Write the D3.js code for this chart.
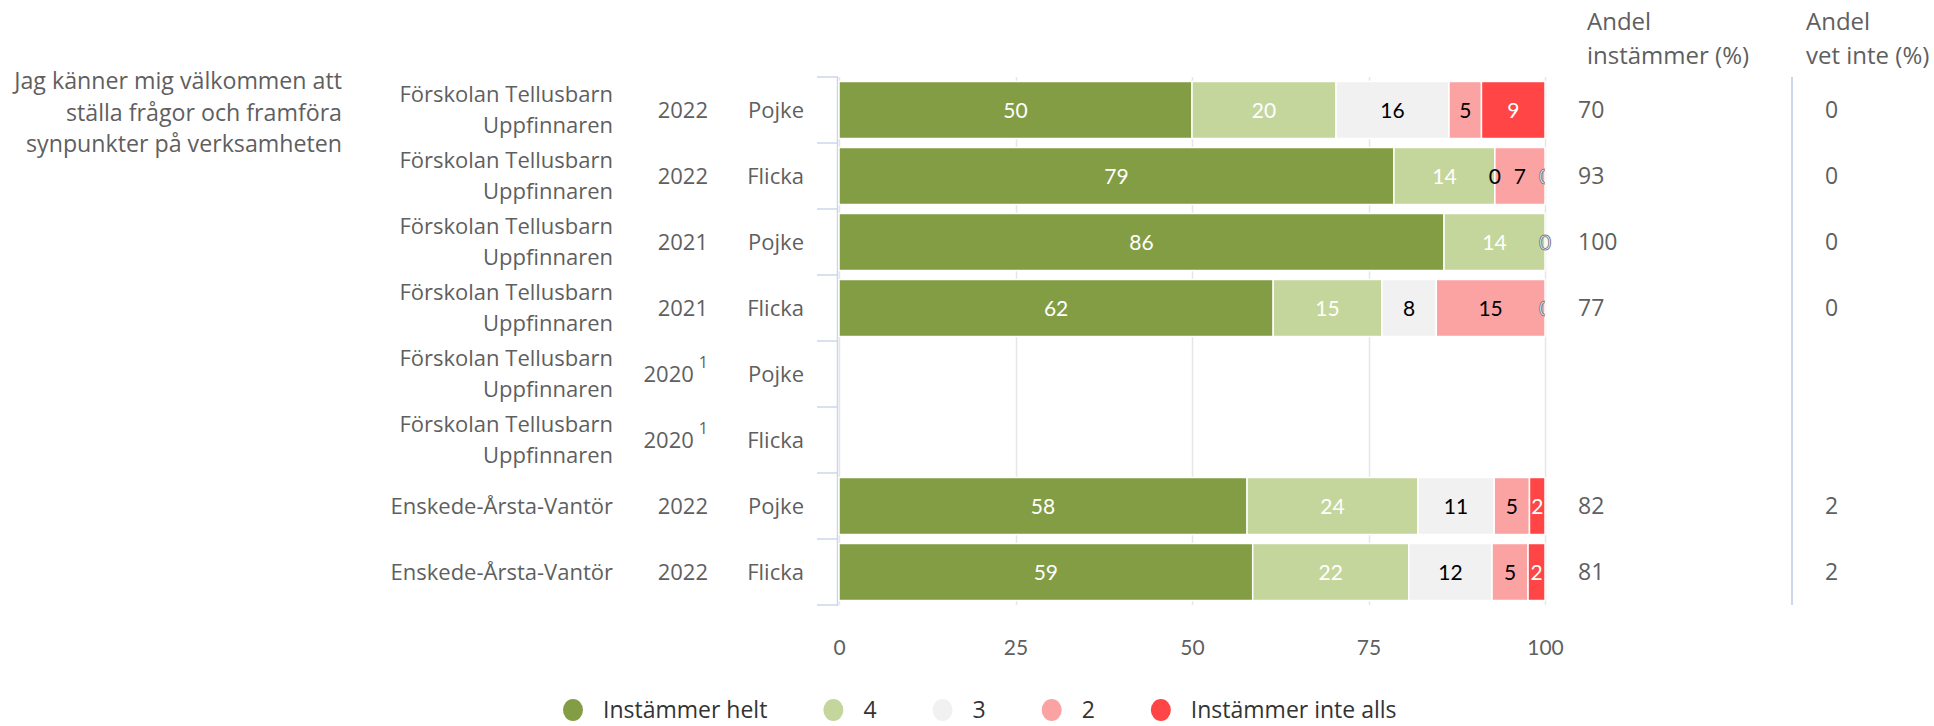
<!DOCTYPE html>
<html>
<head>
<meta charset="utf-8">
<script src="https://cdn.jsdelivr.net/npm/d3@7"></script>
<style>
  html, body { margin: 0; padding: 0; background: #fff; }
  svg { display: block; font-family: "Open Sans", "Noto Sans", sans-serif; }
</style>
</head>
<body>
<svg id="chart" width="1934" height="726"></svg>
<script>
// ---------- DATA ----------
const question = ["Jag känner mig välkommen att", "ställa frågor och framföra", "synpunkter på verksamheten"];
const units = [
  ["Förskolan Tellusbarn", "Uppfinnaren"],
  ["Förskolan Tellusbarn", "Uppfinnaren"],
  ["Förskolan Tellusbarn", "Uppfinnaren"],
  ["Förskolan Tellusbarn", "Uppfinnaren"],
  ["Förskolan Tellusbarn", "Uppfinnaren"],
  ["Förskolan Tellusbarn", "Uppfinnaren"],
  ["Enskede-Årsta-Vantör"],
  ["Enskede-Årsta-Vantör"]
];
const years = ["2022", "2022", "2021", "2021", "2020", "2020", "2022", "2022"];
const yearNotes = ["", "", "", "", "1", "1", "", ""];
const genders = ["Pojke", "Flicka", "Pojke", "Flicka", "Pojke", "Flicka", "Pojke", "Flicka"];

const seriesNames = ["Instämmer helt", "4", "3", "2", "Instämmer inte alls"];
const helt      = [50.0, 78.6, 85.7, 61.5, null, null, 57.8, 58.6];
const fyra      = [20.4, 14.3, 14.3, 15.4, null, null, 24.2, 22.1];
const tre       = [16.0, 0,    0,    7.7,  null, null, 10.8, 11.8];
const tva       = [4.6,  7.1,  0,    15.4, null, null, 5.0,  5.1];
const inteAlls  = [9.0,  0,    0,    0,    null, null, 2.2,  2.4];

const andelInstammer = [70, 93, 100, 77, null, null, 82, 81];
const andelVetInte   = [0, 0, 0, 0, null, null, 2, 2];
const headers = [["Andel", "instämmer (%)"], ["Andel", "vet inte (%)"]];
const xTicks = [0, 25, 50, 75, 100];

// ---------- STYLE ----------
const colors = ["#839d45", "#c5d69c", "#f1f1f1", "#fba3a3", "#ff4545"];
const labelColors = ["#ffffff", "#ffffff", "#000000", "#000000", "#ffffff"];
const textGray = "#5f5f5f";
const numFont = "Lato, sans-serif";

const svg = d3.select("#chart");
const plot = { left: 839, right: 1545, top: 77, bottom: 605 };

const x = d3.scaleLinear().domain([0, 100]).range([plot.left, plot.right]);
const y = d3.scaleBand().domain(d3.range(years.length)).range([plot.top, plot.bottom])
  .paddingInner(0.136).paddingOuter(0.068);
const step = y.step();
const rowCenter = i => plot.top + step * i + step / 2;

svg.append("defs").append("clipPath").attr("id", "plotclip")
  .append("rect").attr("x", plot.left).attr("y", plot.top)
  .attr("width", plot.right - plot.left).attr("height", plot.bottom - plot.top);

// gridlines
svg.append("g").selectAll("line").data(xTicks).join("line")
  .attr("x1", d => Math.round(x(d)) + 0.5).attr("x2", d => Math.round(x(d)) + 0.5)
  .attr("y1", plot.top).attr("y2", plot.bottom)
  .attr("stroke", "#e6e6e6").attr("stroke-width", 1.5);

// x axis labels
const xAxis = d3.axisBottom(x).tickValues(xTicks).tickSize(0).tickPadding(0);
const gx = svg.append("g").attr("transform", `translate(0,${plot.bottom + 43})`).call(xAxis);
gx.select(".domain").remove();
gx.selectAll("text").attr("font-size", 21).attr("fill", textGray)
  .attr("font-family", numFont).attr("dy", "0.35em");

// left axis line and ticks
svg.append("line").attr("x1", plot.left - 1.5).attr("x2", plot.left - 1.5)
  .attr("y1", plot.top).attr("y2", plot.bottom + 1).attr("stroke", "#ccd6eb").attr("stroke-width", 1.5);
svg.append("g").selectAll("line").data(d3.range(years.length + 1)).join("line")
  .attr("x1", plot.left - 22).attr("x2", plot.left - 1)
  .attr("y1", i => plot.top + i * step).attr("y2", i => plot.top + i * step)
  .attr("stroke", "#ccd6eb").attr("stroke-width", 1.5);

// stacked bars
const seriesValues = [helt, fyra, tre, tva, inteAlls];
const rows = years.map((yr, i) => {
  let acc = 0;
  return seriesValues.map((arr, s) => {
    const v = arr[i];
    const seg = { row: i, s, v, x0: acc, x1: acc + (v || 0) };
    acc += v || 0;
    return seg;
  });
});
const segs = rows.flat().filter(d => d.v !== null);

svg.append("g").selectAll("rect").data(segs.filter(d => d.v > 0)).join("rect")
  .attr("x", d => x(d.x0)).attr("width", d => x(d.x1) - x(d.x0))
  .attr("y", d => y(d.row)).attr("height", y.bandwidth())
  .attr("fill", d => colors[d.s]).attr("stroke", "#fff").attr("stroke-width", 1.5);

// data labels
const labelG = svg.append("g").attr("font-size", 21).attr("font-family", numFont).attr("text-anchor", "middle");
rows.forEach(r => {
  const seen = new Set();
  r.forEach(d => {
    if (d.v === null) return;
    const cx = x((d.x0 + d.x1) / 2);
    const atEnd = d.v === 0 && d.x0 >= 99.9;
    if (d.v === 0) {
      const key = Math.round(cx);
      if (seen.has(key)) return;
      seen.add(key);
    }
    const t = labelG.append("text")
      .attr("x", cx).attr("y", rowCenter(d.row)).attr("dy", "0.36em")
      .text(Math.round(d.v));
    if (atEnd) {
      t.attr("fill", "#fff").attr("stroke", "#707070").attr("stroke-width", 0.9);
      if (d.s === seriesValues.length - 1) t.attr("clip-path", "url(#plotclip)");
    } else {
      t.attr("fill", labelColors[d.s]);
    }
  });
});

// left category labels
const leftG = svg.append("g").attr("font-size", 22).attr("fill", textGray).attr("text-anchor", "end");
units.forEach((lines, i) => {
  const c = rowCenter(i);
  lines.forEach((ln, k) => {
    leftG.append("text").attr("x", 613)
      .attr("y", c + (k - (lines.length - 1) / 2) * 31).attr("dy", "0.35em").text(ln);
  });
  const yt = leftG.append("text").attr("x", 708).attr("y", c).attr("dy", "0.35em");
  yt.append("tspan").text(years[i]);
  if (yearNotes[i]) {
    yt.append("tspan").attr("font-size", 16).attr("dx", 5).attr("dy", "-0.85em").text(yearNotes[i]);
  }
  leftG.append("text").attr("x", 804).attr("y", c).attr("dy", "0.35em").text(genders[i]);
});

// question text
question.forEach((ln, k) => {
  leftG.append("text").attr("x", 342).attr("y", 81 + k * 31.5).attr("dy", "0.35em")
    .attr("font-size", 23.2).text(ln);
});

// right columns
const rightG = svg.append("g").attr("fill", textGray);
const colX = [1587, 1806];
headers.forEach((h, j) => h.forEach((ln, k) =>
  rightG.append("text").attr("x", colX[j]).attr("y", 22 + k * 34).attr("dy", "0.35em")
    .attr("font-size", 24).text(ln)));
andelInstammer.forEach((v, i) => {
  if (v === null) return;
  rightG.append("text").attr("x", 1578).attr("y", rowCenter(i)).attr("dy", "0.35em")
    .attr("font-size", 23).text(v);
});
andelVetInte.forEach((v, i) => {
  if (v === null) return;
  rightG.append("text").attr("x", 1825).attr("y", rowCenter(i)).attr("dy", "0.35em")
    .attr("font-size", 23).text(v);
});
svg.append("line").attr("x1", 1792).attr("x2", 1792).attr("y1", plot.top).attr("y2", plot.bottom)
  .attr("stroke", "#ccd6eb").attr("stroke-width", 2);

// legend
const legendY = 710;
const legendG = svg.append("g").attr("font-size", 23).attr("fill", "#333");
let lx = 573;
seriesNames.forEach((name, s) => {
  legendG.append("ellipse").attr("cx", lx).attr("cy", legendY).attr("rx", 10).attr("ry", 11).attr("fill", colors[s]);
  const t = legendG.append("text").attr("x", lx + 30).attr("y", legendY).attr("dy", "0.35em").text(name);
  const w = t.node().getComputedTextLength();
  lx = lx + 30 + w + 66;
});
</script>
</body>
</html>
